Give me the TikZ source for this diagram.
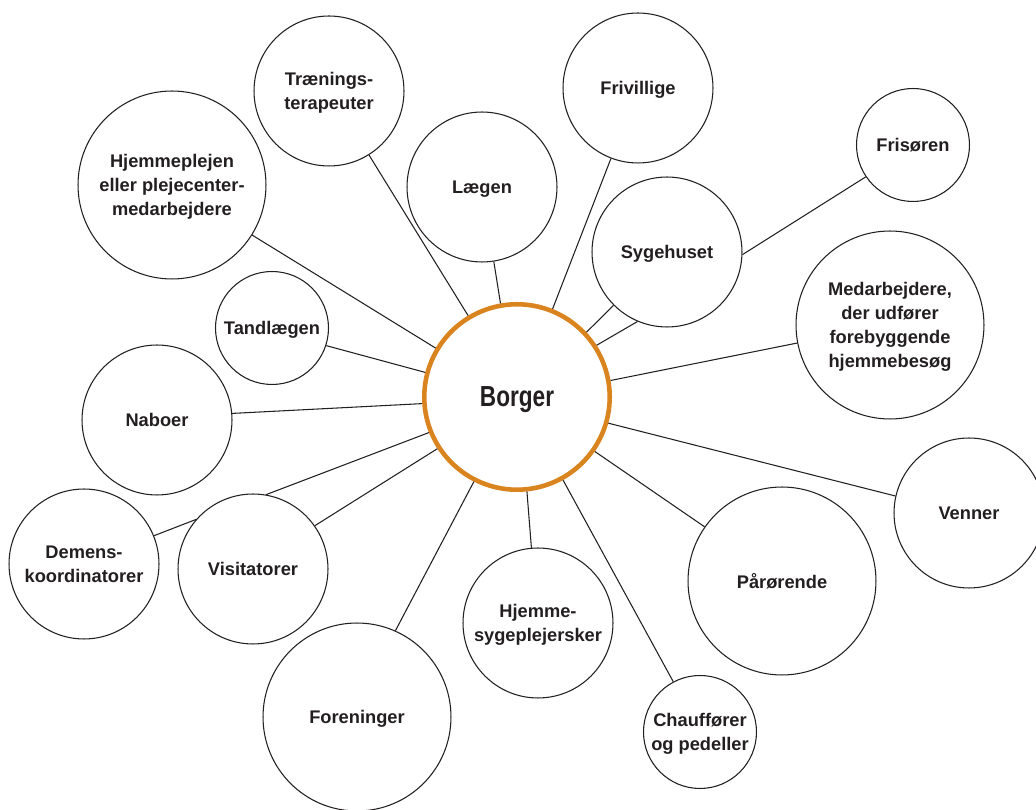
\documentclass[tikz,border=0pt]{standalone}
\usepackage{fontspec}
\setmainfont{Liberation Sans}
\newfontfamily\borgerfont[FakeStretch=0.78]{Liberation Sans}
\definecolor{borgerorange}{RGB}{217,132,30}
\definecolor{ink}{RGB}{35,31,32}

\begin{document}
\begin{tikzpicture}[
        x=0.02cm, y=-0.02cm,
        bubble/.style={
            circle, draw=ink, line width=0.6pt,
            fill=white, text=ink, align=center, inner sep=0pt,
            text depth=0pt,
            font=\fontsize{10.4}{13.6}\selectfont\bfseries
        },
        small/.style={bubble, minimum size=2.26cm},
        mid/.style={bubble, minimum size=3cm},
        big/.style={bubble, minimum size=3.76cm},
        hub/.style={
            circle, draw=borgerorange, line width=2.6pt,
            fill=white, text=ink, inner sep=0pt, minimum size=3.71cm,
            text depth=0pt,
            font=\borgerfont\fontsize{16.5}{19}\selectfont\bfseries
        },
        link/.style={draw=ink, line width=0.6pt}
      ]
  \useasboundingbox (0,0) rectangle (1036,810);

  \node[hub] (B) at (517,397) {Borger};

  \node[mid] (T) at (329,91) {Trænings-\\terapeuter};
  \node[mid] (F) at (638,88) {Frivillige};
  \node[small] (Fr) at (913,145) {Frisøren};
  \node[big] (H) at (172,185) {Hjemmeplejen\\eller plejecenter-\\medarbejdere};
  \node[mid] (L) at (482,187) {Lægen};
  \node[mid] (S) at (667,252) {Sygehuset};
  \node[big] (M) at (890,325) {Medarbejdere,\\der udfører\\forebyggende\\hjemmebesøg};
  \node[small] (Td) at (272,328) {Tandlægen};
  \node[mid] (N) at (157,420) {Naboer};
  \node[mid] (V) at (969,513) {Venner};
  \node[mid] (D) at (84,564) {Demens-\\koordinatorer};
  \node[mid] (Vi) at (253,569) {Visitatorer};
  \node[mid] (Hs) at (538,623) {Hjemme-\\sygeplejersker};
  \node[big] (P) at (782,581) {Pårørende};
  \node[big] (Fo) at (357,717) {Foreninger};
  \node[small] (C) at (700,732) {Chauffører\\og pedeller};

  \path[link] (B.149) edge (H.-32);
  \path[link] (B.121) edge (T.-58);
  \path[link] (B.100) edge (L.-81);
  \path[link] (B.68) edge (F.-111);
  \path[link] (B.43) edge (S.-135);
  \path[link] (B.33) edge (S.-113);
  \path[link] (S.-2) edge (Fr.-146);
  \path[link] (B.10) edge (M.191);
  \path[link] (B.165) edge (Td.-18);
  \path[link] (B.184) edge (N.5);
  \path[link] (B.202) edge (Vi.80);
  \path[link] (B.213) edge (Vi.35);
  \path[link] (D.22) edge (Vi.139);
  \path[link] (B.243) edge (Fo.66);
  \path[link] (B.276) edge (Hs.95);
  \path[link] (B.-61) edge (C.118);
  \path[link] (B.-35) edge (P.145);
  \path[link] (B.-16) edge (V.167);
\end{tikzpicture}
\end{document}
